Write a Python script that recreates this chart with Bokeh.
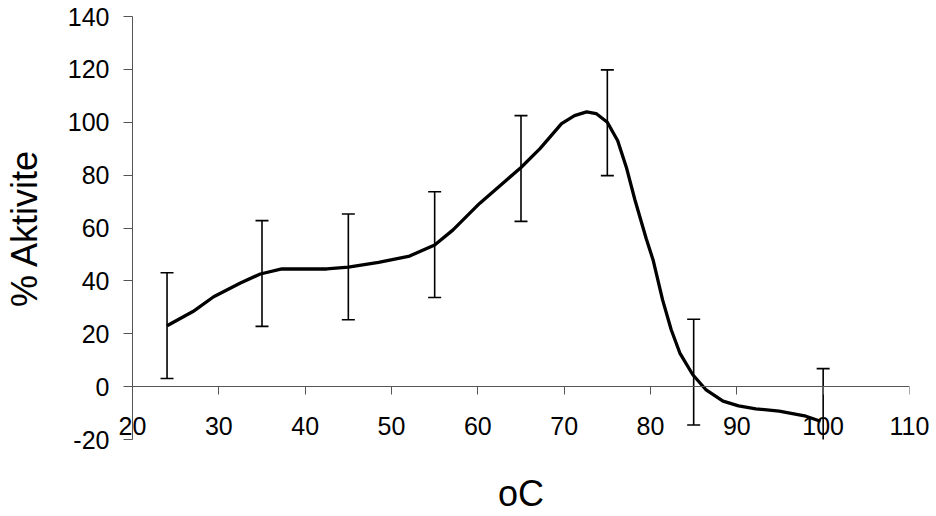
from bokeh.plotting import figure
from bokeh.models import (ColumnDataSource, Whisker, TeeHead, Range1d, SingleIntervalTicker,
                          PrintfTickFormatter, CustomJSTickFormatter, LinearAxis)
from bokeh.embed import file_html
from bokeh.resources import INLINE

# curve (temperature, % activity)
curve_x = [24, 27, 29.4, 32.5, 34.8, 37.3, 42.5, 45, 48.5, 52.1, 55, 57.1, 60.2, 63.3, 65, 67.2, 69.7,
           71.2, 72.6, 73.7, 75, 76.2, 77.2, 78.2, 79.5, 80.3, 81.4, 82.4, 83.4, 84.9, 86.4, 88.4,
           90.2, 92.2, 94.9, 98, 99.7]
curve_y = [23, 28.4, 34, 39.2, 42.6, 44.5, 44.5, 45.2, 47, 49.4, 53.6, 59.2, 69.3, 78.1, 82.9, 90, 99.5,
           102.5, 103.9, 103.3, 100, 93, 83, 70.6, 56, 47.9, 32.8, 21.5, 12.7, 4.5, -1.1, -5.5,
           -7.3, -8.4, -9.3, -11.2, -13.1]

# error bars
err_x = [24, 35, 45, 55, 65, 75, 85, 100]
err_mean = [23.1, 42.8, 45.3, 53.7, 82.5, 99.8, 5.5, -13.2]
err_sd = [20, 20, 20, 20, 20, 20, 20, 20]

FONT = "Liberation Sans"

p = figure(width=930, height=516, output_backend="svg", toolbar_location=None,
           x_range=Range1d(20, 110), y_range=Range1d(-20, 140),
           x_axis_location=None,
           min_border_left=132, min_border_right=21, min_border_top=16, min_border_bottom=76)
p.outline_line_color = None
p.xgrid.visible = False
p.ygrid.visible = False
p.background_fill_color = "white"

p.line(curve_x, curve_y, line_width=3.3, line_color="black")

src = ColumnDataSource(dict(x=err_x,
                            upper=[m + s for m, s in zip(err_mean, err_sd)],
                            lower=[m - s for m, s in zip(err_mean, err_sd)]))
w = Whisker(source=src, base="x", upper="upper", lower="lower", dimension="height",
            line_color="black", line_width=1.6,
            upper_head=TeeHead(size=13, line_color="black", line_width=1.6),
            lower_head=TeeHead(size=13, line_color="black", line_width=1.6))
p.add_layout(w)

# x axis line crossing at y = 0 (line and ticks only)
ax = LinearAxis(fixed_location=0, ticker=SingleIntervalTicker(interval=10),
                formatter=CustomJSTickFormatter(code="return ''"),
                axis_line_color="#555555", major_tick_line_color="#555555",
                major_tick_in=0, major_tick_out=8, minor_tick_line_color=None)
p.add_layout(ax, "below")

# x tick labels and title (no line)
ax2 = LinearAxis(ticker=SingleIntervalTicker(interval=10), formatter=PrintfTickFormatter(format="%d"),
                 axis_line_color=None, major_tick_line_color=None, minor_tick_line_color=None,
                 major_tick_in=0, major_tick_out=0,
                 major_label_text_font=FONT, major_label_text_font_size="25px",
                 major_label_text_color="black", major_label_standoff=-27,
                 axis_label="oC", axis_label_text_font=FONT, axis_label_text_font_size="36px",
                 axis_label_text_font_style="normal", axis_label_text_color="black",
                 axis_label_standoff=35)
p.add_layout(ax2, "below")

ay = p.yaxis[0]
ay.ticker = SingleIntervalTicker(interval=20)
ay.formatter = PrintfTickFormatter(format="%d")
ay.axis_line_color = "#555555"
ay.major_tick_line_color = "#555555"
ay.major_tick_in = 0
ay.major_tick_out = 9
ay.minor_tick_line_color = None
ay.major_label_text_font = FONT
ay.major_label_text_font_size = "25px"
ay.major_label_text_color = "black"
ay.major_label_standoff = 14
ay.axis_label = "% Aktivite"
ay.axis_label_text_font = FONT
ay.axis_label_text_font_size = "36px"
ay.axis_label_text_font_style = "normal"
ay.axis_label_text_color = "black"
ay.axis_label_standoff = 20

open("out.html", "w").write(file_html(p, INLINE))
